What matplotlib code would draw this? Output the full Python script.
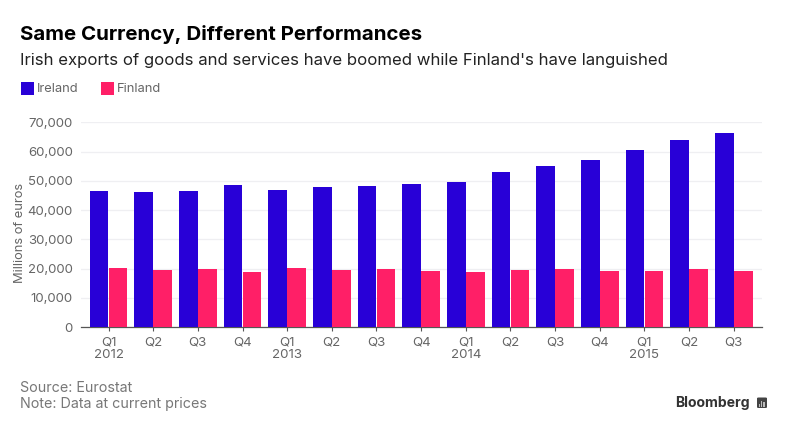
import matplotlib
matplotlib.use("Agg")
import matplotlib.pyplot as plt
from matplotlib.patches import Rectangle, FancyBboxPatch

quarters = ["Q1", "Q2", "Q3", "Q4"] * 3 + ["Q1", "Q2", "Q3"]
years = {0: "2012", 4: "2013", 8: "2014", 12: "2015"}
ireland = [46400, 46170, 46400, 48450, 46750, 47770, 48100, 48900,
           49600, 52900, 55200, 57100, 60530, 63840, 66240]
finland = [20070, 19600, 19830, 18900, 20070, 19380, 19830, 19200,
           18900, 19400, 19900, 19200, 19250, 19730, 19250]
yticks = [0, 10000, 20000, 30000, 40000, 50000, 60000, 70000]

W, H = 788, 432
BLUE, RED = "#2800D7", "#FF1F67"
GREY = "#666666"
plt.rcParams["font.family"] = ["Inter", "DejaVu Sans"]

fig = plt.figure(figsize=(W / 100, H / 100), dpi=100)
ax = fig.add_axes([81 / W, 1 - 327 / H, (761.5 - 81) / W, (327 - 122.3) / H])
xs = list(range(len(ireland)))
bw = 0.415
ax.bar([x - bw / 2 - 0.005 for x in xs], ireland, bw, color=BLUE, zorder=3)
ax.bar([x + bw / 2 + 0.005 for x in xs], finland, bw, color=RED, zorder=3)
ax.set_xlim(-0.616, 14.62)
ax.set_ylim(0, 70000)

ax.set_yticks(yticks)
ax.set_yticklabels([f"{v:,}" for v in yticks], fontsize=9.5, color=GREY)
ax.tick_params(axis="y", length=0, pad=6)
ax.grid(axis="y", color="#EFEFF2", lw=0.9, zorder=0)
ax.set_xticks(xs)
ax.set_xticklabels([q + ("\n" + years[i] if i in years else "") for i, q in enumerate(quarters)],
                   fontsize=9.6, color=GREY, linespacing=1.05)
ax.tick_params(axis="x", length=3, width=0.8, color="#555555", pad=4)
for s in ["top", "left", "right"]:
    ax.spines[s].set_visible(False)
ax.spines["bottom"].set_color("#555555")
ax.spines["bottom"].set_linewidth(0.9)
ax.set_axisbelow(True)

def T(x, y, s, **kw):
    fig.text(x / W, 1 - y / H, s, va="center", **kw)

ax.set_ylabel("Millions of euros", fontsize=9.3, color=GREY, labelpad=0)
ax.yaxis.set_label_coords((26 - 81) / (761.5 - 81), (327 - 233) / (327 - 122.3))

T(20, 34.5, "Same Currency, Different Performances", fontsize=14.75, fontweight="bold", color="black")
T(20, 60, "Irish exports of goods and services have boomed while Finland's have languished",
  fontsize=12.05, color="#222222")

for x0, c, lab, tx in [(20.5, BLUE, "Ireland", 37), (100.5, RED, "Finland", 117)]:
    fig.add_artist(Rectangle((x0 / W, 1 - 94.5 / H), 13 / W, 13 / H, transform=fig.transFigure,
                             facecolor=c, edgecolor="none"))
    T(tx, 88.5, lab, fontsize=9.3, color=GREY)

T(20, 388, "Source: Eurostat", fontsize=10.3, color="#777777")
T(20, 404, "Note: Data at current prices", fontsize=10.3, color="#777777")
T(675.5, 403, "Bloomberg", fontsize=10.1, fontweight="bold", color="#333333")

fig.add_artist(FancyBboxPatch((757 / W, 1 - 408 / H), 10 / W, 10.5 / H, transform=fig.transFigure,
                              boxstyle="round,pad=0,rounding_size=0.002", facecolor="#444444", edgecolor="none"))
for dx, h in [(759, 3), (761.2, 6), (763.4, 4.5)]:
    fig.add_artist(Rectangle((dx / W, 1 - 406.5 / H), 1.2 / W, h / H, transform=fig.transFigure,
                             facecolor="#BBBBBB", edgecolor="none"))

fig.savefig("out.png", dpi=100, facecolor="white")
